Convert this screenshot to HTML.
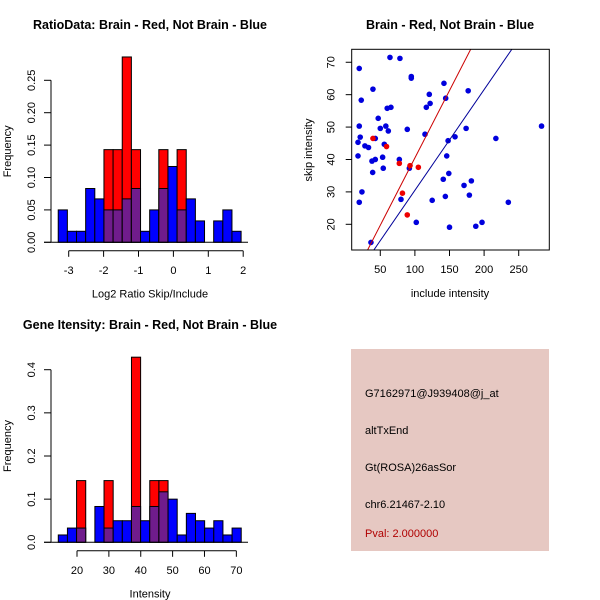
<!DOCTYPE html>
<html><head><meta charset="utf-8"><style>
body{margin:0;background:#fff}
svg{display:block;font-family:"Liberation Sans",sans-serif}
.t{font-size:12.5px;font-weight:bold}
.l{font-size:11px}
</style></head><body>
<svg id="s" width="600" height="600" viewBox="0 0 600 600">
<text class="t" x="150" y="29" text-anchor="middle">RatioData: Brain - Red, Not Brain - Blue</text>
<text class="t" x="450" y="29" text-anchor="middle">Brain - Red, Not Brain - Blue</text>
<text class="t" x="150" y="329" text-anchor="middle">Gene Itensity: Brain - Red, Not Brain - Blue</text>
<g id="h1"></g>
<g id="sc"></g>
<g id="h2"></g>
<g>
<rect x="351" y="349" width="198" height="202" fill="#e6c8c2"/>
<text class="l" x="365" y="397">G7162971@J939408@j_at</text>
<text class="l" x="365" y="434">altTxEnd</text>
<text class="l" x="365" y="471">Gt(ROSA)26asSor</text>
<text class="l" x="365" y="508">chr6.21467-2.10</text>
<text class="l" x="365" y="537" fill="#b00000">Pval: 2.000000</text>
</g>
</svg>
<script>
// Ratio histogram data
const ratioBinStart = -3.3, ratioBinWidth = 0.262;
const ratioBlue = [0.05,0.017,0.017,0.083,0.067,0.05,0.05,0.067,0.083,0.017,0.05,0.083,0.117,0.05,0.067,0.033,0,0.033,0.05,0.017];
const ratioRed  = [0,0,0,0,0,0.143,0.143,0.286,0.143,0,0,0.143,0,0.143,0,0,0,0,0,0];
const ratioXTicks = [-3,-2,-1,0,1,2];
const ratioYTicks = [0,0.05,0.10,0.15,0.20,0.25];
const ratioYLabels = ["0.00","0.05","0.10","0.15","0.20","0.25"];
// Intensity histogram data
const intBinStart = 14.13, intBinWidth = 2.87;
const intBlue = [0.017,0.033,0.033,0,0.083,0.033,0.05,0.05,0.083,0.05,0.083,0.117,0.1,0.017,0.067,0.05,0.033,0.05,0.017,0.033];
const intRed  = [0,0,0.143,0,0,0.143,0,0,0.429,0,0.143,0.143,0,0,0,0,0,0,0,0];
const intXTicks = [20,30,40,50,60,70];
const intYTicks = [0,0.1,0.2,0.3,0.4];
const intYLabels = ["0.0","0.1","0.2","0.3","0.4"];
// Scatter data
const blueX = [19.6,64,78.4,39.4,22.5,94.8,94.8,120.8,142,144.5,177,122,116.5,60,65.4,47,19.6,58,50,61.6,89,114.6,174,283,21,17.8,42.8,217,158,148,55.8,27.8,33,17.8,53.4,146,77.5,42.8,38,39,54.3,92,149,141,181.6,171,178.7,144,23.5,79.9,125,19.6,235,102,197,188,150,36.5];
const blueY = [68.1,71.5,71.2,61.7,58.3,65.6,65.1,60.1,63.5,58.9,61.2,57.3,56.1,55.8,56.1,52.7,50.3,50.3,49.6,48.8,49.3,47.8,49.6,50.3,46.9,45.3,46.5,46.5,47,45.8,44.7,44.2,43.7,41.1,40.7,41.1,40,40,39.5,36,37.3,37.3,35.7,33.9,33.4,32,29,28.6,30,27.7,27.4,26.8,26.8,20.6,20.6,19.4,19.1,14.4];
const redX = [39.4,59,77.5,93,105,82,89];
const redY = [46.5,44,38.8,38.1,37.6,29.6,22.9];
const lineSlopes = [0.4157,0.3107];
const lineIntercepts = [-1.08,-0.58];
const scXTicks = [50,100,150,200,250];
const scYTicks = [20,30,40,50,60,70];

const NS="http://www.w3.org/2000/svg";
function mk(p,tag,a){const e=document.createElementNS(NS,tag);for(const k in a)e.setAttribute(k,a[k]);p.appendChild(e);return e;}

function hist(g,bs,bw,blue,red,xt,yt,yl,xs,ys,y0,xlab){
  const X=v=>xs[0]+(v-xs[1])*xs[2];
  const Y=v=>y0-v*ys;
  for(let i=0;i<blue.length;i++){
    const x0=X(bs+i*bw),x1=X(bs+(i+1)*bw);
    const b=blue[i],r=red[i];
    if(r>0){const e=mk(g,'rect',{x:x0,y:Y(r),width:x1-x0,height:y0-Y(r),fill:'#ff0000',stroke:'#000','stroke-width':1});
      }
    if(b>0&&b>r){const e=mk(g,'rect',{x:x0,y:Y(b),width:x1-x0,height:y0-Y(b),fill:'#0000ff',stroke:'#000','stroke-width':1});
      }
    const m=Math.min(b,r);
    if(m>0){const e=mk(g,'rect',{x:x0,y:Y(m),width:x1-x0,height:y0-Y(m),fill:'#701c8c',stroke:'#000','stroke-width':1});
      }
  }
  mk(g,'line',{x1:44,x2:248,y1:y0,y2:y0,stroke:'#000'});
  mk(g,'line',{x1:51,x2:51,y1:Y(yt[0]),y2:Y(yt[yt.length-1]),stroke:'#000'});
  yt.forEach((v,i)=>{mk(g,'line',{x1:44,x2:51,y1:Y(v),y2:Y(v),stroke:'#000'});
    const t=mk(g,'text',{x:35,y:Y(v),'text-anchor':'middle','font-size':11,transform:`rotate(-90 35 ${Y(v)})`});t.textContent=yl[i];
    });
  const ya=y0+8.5;
  mk(g,'line',{x1:X(xt[0]),x2:X(xt[xt.length-1]),y1:ya,y2:ya,stroke:'#000'});
  xt.forEach(v=>{mk(g,'line',{x1:X(v),x2:X(v),y1:ya,y2:ya+6,stroke:'#000'});
    const t=mk(g,'text',{x:X(v),y:ya+23,'text-anchor':'middle','font-size':11});t.textContent=v;
    });
  const xl=mk(g,'text',{x:150,y:y0+55,'text-anchor':'middle','font-size':11});xl.textContent=xlab;
  
  const yy=(y0+Y(yt[yt.length-1]))/2-10;
  const fl=mk(g,'text',{x:11,y:yy,'text-anchor':'middle','font-size':11,transform:`rotate(-90 11 ${yy})`});fl.textContent='Frequency';
  
}
hist(document.getElementById('h1'),ratioBinStart,ratioBinWidth,ratioBlue,ratioRed,ratioXTicks,ratioYTicks,ratioYLabels,[68.7,-3,34.9],648,242.3,'Log2 Ratio Skip/Include');
hist(document.getElementById('h2'),intBinStart,intBinWidth,intBlue,intRed,intXTicks,intYTicks,intYLabels,[77,20,3.187],431.5,542.3,'Intensity');

(function(){
  const g=document.getElementById('sc');
  const L=351.7,R=549.3,T=49.3,B=250;
  const xmin=8.7,xmax=294.2,ymin=12.07,ymax=74.0;
  const X=v=>L+(v-xmin)/(xmax-xmin)*(R-L);
  const Y=v=>B-(v-ymin)/(ymax-ymin)*(B-T);
  const clip=mk(g,'clipPath',{id:'cp'});mk(clip,'rect',{x:L,y:T,width:R-L,height:B-T});
  blueX.forEach((v,i)=>{const c=mk(g,'circle',{cx:X(v),cy:Y(blueY[i]),r:2.8,fill:'#0000dd'});
    });
  redX.forEach((v,i)=>{const c=mk(g,'circle',{cx:X(v),cy:Y(redY[i]),r:2.8,fill:'#ee0000'});
    });
  const cols=['#cc0000','#000099'];
  lineSlopes.forEach((s,i)=>{const e=mk(g,'line',{x1:X(xmin),y1:Y(lineIntercepts[i]+s*xmin),x2:X(xmax),y2:Y(lineIntercepts[i]+s*xmax),stroke:cols[i],'stroke-width':1,'clip-path':'url(#cp)'});
    });
  mk(g,'rect',{x:L,y:T,width:R-L,height:B-T,fill:'none',stroke:'#000'});
  scXTicks.forEach(v=>{mk(g,'line',{x1:X(v),x2:X(v),y1:B,y2:B+6,stroke:'#000'});
    const t=mk(g,'text',{x:X(v),y:B+23,'text-anchor':'middle','font-size':11});t.textContent=v;
    });
  scYTicks.forEach(v=>{mk(g,'line',{x1:L-6,x2:L,y1:Y(v),y2:Y(v),stroke:'#000'});
    const t=mk(g,'text',{x:L-17,y:Y(v),'text-anchor':'middle','font-size':11,transform:`rotate(-90 ${L-17} ${Y(v)})`});t.textContent=v;
    });
  const xl=mk(g,'text',{x:450,y:297,'text-anchor':'middle','font-size':11});xl.textContent='include intensity';
  
  const yl=mk(g,'text',{x:312,y:150,'text-anchor':'middle','font-size':11,transform:'rotate(-90 312 150)'});yl.textContent='skip intensity';
  
})();
</script>
</body></html>
